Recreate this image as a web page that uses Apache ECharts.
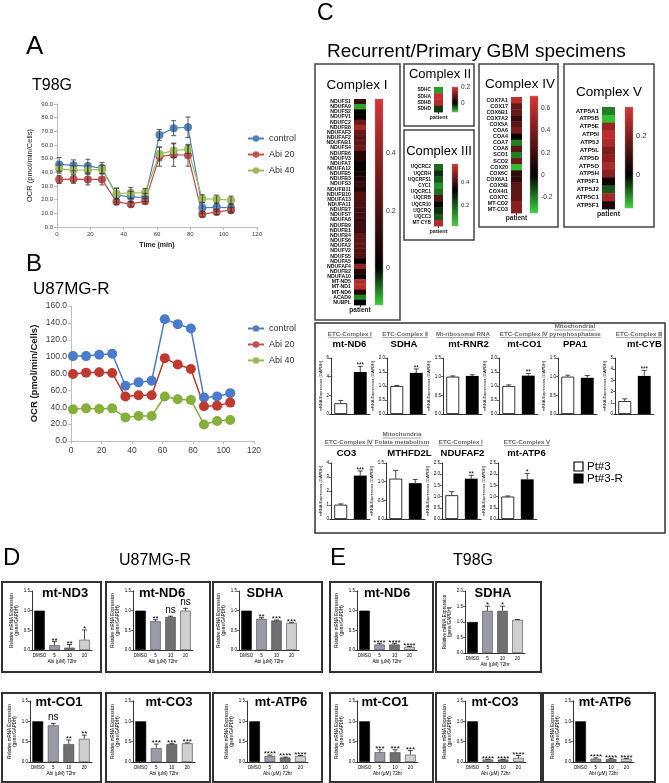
<!DOCTYPE html>
<html><head><meta charset="utf-8">
<script src="https://cdn.jsdelivr.net/npm/echarts@6/dist/echarts.min.js"></script>
<style>html,body{margin:0;padding:0;background:#fff}#chart{width:669px;height:783px}</style>
</head><body><div id="chart"></div>
<script>
// ---------------- DATA ----------------
const timeMin = [1.3, 9.9, 18.5, 27.0, 35.7, 44.3, 52.9, 61.5, 70.0, 78.6, 87.2, 95.8, 104.4];
const seriesNames = ['control', 'Abi 20', 'Abi 40'];
const t98gControl = [45.8, 45.1, 44.6, 43.1, 23.3, 22.1, 21.6, 67.4, 72.3, 73.0, 14.0, 14.5, 14.0];
const t98gControlErr = [5, 4, 5, 4, 5, 4, 3, 4, 5.5, 7.5, 4, 3, 3];
const t98gAbi20 = [34.8, 35.0, 34.8, 34.8, 18.4, 16.7, 18.9, 51.5, 52.9, 52.5, 9.3, 11.0, 12.3];
const t98gAbi20Err = [3, 3, 4, 4, 2, 2, 2, 7, 8.5, 8, 2, 2, 2];
const t98gAbi40 = [42.4, 41.7, 41.7, 42.2, 24.5, 25.0, 25.2, 53.4, 55.9, 56.9, 20.6, 20.3, 19.6];
const t98gAbi40Err = [3, 3, 3, 3, 4, 4, 3, 5, 5, 3, 3, 3, 3];
const u87Control = [100.6, 100.6, 102.2, 103.4, 65.5, 69.5, 71.4, 144.4, 138.5, 133.3, 51.5, 52.7, 56.7];
const u87Abi20 = [79.4, 81.0, 81.4, 80.6, 52.7, 54.3, 54.3, 98.2, 90.6, 85.4, 41.1, 41.9, 45.5];
const u87Abi40 = [37.5, 38.7, 37.9, 38.7, 28.0, 29.6, 29.6, 52.7, 49.5, 48.7, 19.6, 23.6, 24.8];

const complexIGenes = ['NDUFS1','NDUFA9','NDUFS2','NDUFV1','NDUFC2','NDUFB8','NDUFAF3','NDUFAF2','NDUFAB1','NDUFS4','NDUFB6','NDUFV3','NDUFA7','NDUFA12','NDUFB5','NDUFB3','NDUFS3','NDUFB11','NDUFB10','NDUFA13','NDUFA11','NDUFB7','NDUFS7','NDUFA8','NDUFB9','NDUFB1','NDUFB4','NDUFS6','NDUFA2','NDUFV2','NDUFS5','NDUFA5','NDUFAF4','NDUFB2','NDUFA10','MT-ND5','MT-ND1','MT-ND6','ACAD9','NUBPL'];
const complexIValues = [0.15,-0.1,0.02,0.0,0.3,0.45,0.3,0.25,0.25,0.3,0.1,0.1,0.03,0.02,0.06,0.08,0.15,0.1,0.22,0.22,0.2,0.18,0.17,0.17,0.17,0.17,0.25,0.25,0.25,0.22,0.22,0.02,0.4,0.1,0.03,0.5,0.5,0.1,-0.08,0.0];
const complexIScale = [-0.13, 0, 0.59];
const complexIIGenes = ['SDHC','SDHA','SDHB','SDHD'];
const complexIIValues = [-0.08, 0.18, 0.17, -0.03];
const complexIIScale = [-0.11, 0, 0.2];
const complexIIIGenes = ['UQCRC2','UQCRH','UQCRFS1','CYC1','UQCRC1','UQCRB','UQCR10','UQCRQ','UQCC3','MT-CYB'];
const complexIIIValues = [0.18, 0.26, 0.2, 0.12, 0.17, 0.42, 0.32, 0.26, 0.2, 0.52];
const complexIIIScale = [0.02, 0.33, 0.56];
const complexIVGenes = ['COX7A1','COX17','COX6B1','COX7A2','COX5A','COA6','COA4','COA7','COA8','SCO1','SCO2','COX20','COX6C','COX6A1','COX5B','COX4I1','COX7C','MT-CO2','MT-CO3'];
const complexIVValues = [0.62, 0.33, 0.35, 0.18, 0.3, 0.4, 0.0, -0.2, 0.3, -0.2, 0.35, -0.3, 0.15, 0.15, 0.3, 0.3, 0.3, 0.45, 0.45];
const complexIVScale = [-0.34, 0, 0.71];
const complexVGenes = ['ATP5A1','ATP5B','ATP5E','ATP5I','ATP5J','ATP5L','ATP5D','ATP5O','ATP5H','ATP5F1','ATP5J2','ATP5C1','ATP5F1'];
const complexVValues = [-0.1, -0.15, 0.25, 0.3, 0.28, 0.2, 0.22, 0.28, 0.22, 0.02, -0.07, 0.27, 0.05];
const complexVScale = [-0.17, 0, 0.35];

const qpcrGenes = ['mt-ND6','SDHA','mt-RNR2','mt-CO1','PPA1','mt-CYB','CO3','MTHFD2L','NDUFAF2','mt-ATP6'];
const qpcrGroups = ['ETC-Complex Ⅰ','ETC-Complex Ⅱ','Mt-ribosomal RNA','ETC-Complex Ⅳ','Mitochondrial\npyrophosphatase','ETC-Complex Ⅲ','ETC-Complex Ⅳ','Mitochondria\nFolate metabolism','ETC-Complex Ⅰ','ETC-Complex Ⅴ'];
const pt3Mean = [1.15, 1.0, 1.0, 1.0, 1.0, 1.15, 1.02, 1.08, 1.06, 1.0];
const pt3Err = [0.3, 0.02, 0.02, 0.04, 0.04, 0.2, 0.06, 0.22, 0.16, 0.03];
const pt3RMean = [4.5, 1.47, 1.02, 1.37, 0.97, 3.4, 3.1, 0.96, 1.8, 1.77];
const pt3RErr = [0.6, 0.14, 0.03, 0.08, 0.06, 0.5, 0.33, 0.1, 0.15, 0.26];
const qpcrSig = ['***','**','','**','','***','***','','**','*'];
const qpcrAxisMax = [6, 2, 1.5, 2, 1.5, 5, 4, 1.5, 2.5, 2.5];
const qpcrAxisStep = [2, 0.5, 0.5, 0.5, 0.5, 1, 1, 0.5, 0.5, 0.5];
const legendLabels = ['Pt#3', 'Pt#3-R'];

const doseLabels = ['DMSO', '5', '10', '20'];
const u87ND3 = [1.0, 0.12, 0.06, 0.26];   const u87ND3Err = [0, 0.1, 0.08, 0.25];   const u87ND3Sig = ['', '**', '**', '*'];
const u87ND6 = [1.0, 0.73, 0.84, 1.0];    const u87ND6Err = [0, 0.04, 0.02, 0.06];  const u87ND6Sig = ['', '**', 'ns', 'ns'];
const u87SDHA = [1.0, 0.79, 0.75, 0.69];  const u87SDHAErr = [0, 0.03, 0.01, 0.005]; const u87SDHASig = ['', '**', '***', '***'];
const u87CO1 = [1.0, 0.9, 0.44, 0.57];    const u87CO1Err = [0, 0.05, 0.1, 0.09];   const u87CO1Sig = ['', 'ns', '**', '**'];
const u87CO3 = [1.0, 0.34, 0.44, 0.46];   const u87CO3Err = [0, 0.1, 0.01, 0.01];   const u87CO3Sig = ['', '***', '***', '***'];
const u87ATP6 = [1.0, 0.15, 0.11, 0.15];  const u87ATP6Err = [0, 0.02, 0.01, 0.01]; const u87ATP6Sig = ['', '****', '****', '****'];
const t98ND6 = [1.0, 0.14, 0.14, 0.08];   const t98ND6Err = [0, 0.03, 0.03, 0.01];  const t98ND6Sig = ['', '****', '****', '****'];
const t98SDHA = [1.0, 1.36, 1.36, 1.07];  const t98SDHAErr = [0, 0.15, 0.15, 0.01]; const t98SDHASig = ['', '*', '*', ''];
const t98CO1 = [1.0, 0.24, 0.24, 0.18];   const t98CO1Err = [0, 0.06, 0.06, 0.1];   const t98CO1Sig = ['', '***', '***', '***'];
const t98CO3 = [1.0, 0.06, 0.06, 0.1];    const t98CO3Err = [0, 0.005, 0.005, 0.06]; const t98CO3Sig = ['', '****', '****', '****'];
const t98ATP6 = [1.0, 0.08, 0.07, 0.08];  const t98ATP6Err = [0, 0.02, 0.02, 0.01]; const t98ATP6Sig = ['', '****', '****', '****'];

// ---------------- BUILD ----------------
const FF = '"Liberation Sans", Arial, Helvetica, sans-serif';
const grids = [], xAxes = [], yAxes = [], series = [], graphics = [], legends = [];
const measureCtx = document.createElement('canvas').getContext('2d');

function addGrid(rect, xa, ya) {
  const i = grids.length;
  grids.push(Object.assign({ containLabel: false, show: false }, rect));
  xAxes.push(Object.assign({ gridIndex: i }, xa));
  yAxes.push(Object.assign({ gridIndex: i }, ya));
  return i;
}
function text(str, x, y, size, o) {
  o = o || {};
  graphics.push({ type: 'text', x: x, y: y, z: 100, silent: true,
    style: { text: str, fontSize: size, fontFamily: FF, fontWeight: o.bold ? 'bold' : 'normal',
      fill: o.color || '#000', align: o.align || 'center', verticalAlign: o.va || 'middle' } });
}
function box(x, y, w, h, lw, color) {
  graphics.push({ type: 'rect', z: 0, silent: true, shape: { x: x, y: y, width: w, height: h },
    style: { fill: 'none', stroke: color || '#333', lineWidth: lw || 1.5 } });
}
function underlined(str, cx, y, size, color) {
  const lines = str.split('\n');
  measureCtx.font = 'bold ' + size + 'px ' + FF;
  lines.forEach(function (ln, j) {
    const yy = y - (lines.length - 1 - j) * (size + 1.2);
    text(ln, cx, yy, size, { bold: true, color: color });
    const w = measureCtx.measureText(ln).width;
    graphics.push({ type: 'line', z: 100, silent: true,
      shape: { x1: cx - w / 2, y1: yy + size * 0.55, x2: cx + w / 2, y2: yy + size * 0.55 },
      style: { stroke: color, lineWidth: 0.6 } });
  });
}
function errorSeries(gi, data, sigs, opts) {
  series.push({ type: 'custom', xAxisIndex: gi, yAxisIndex: gi, z: 5, silent: true,
    encode: { x: 0, y: 1 }, data: data,
    renderItem: function (params, api) {
      const x = api.value(0), y = api.value(1), e = api.value(2);
      const hi = api.coord([x, y + e]);
      const lo = api.coord([x, opts.both ? y - e : y]);
      const cw = opts.cap;
      const st = { stroke: opts.color || '#000', lineWidth: opts.lw || 0.8 };
      const kids = [];
      if (e > 0) {
        kids.push({ type: 'line', shape: { x1: hi[0], y1: hi[1], x2: lo[0], y2: lo[1] }, style: st });
        kids.push({ type: 'line', shape: { x1: hi[0] - cw, y1: hi[1], x2: hi[0] + cw, y2: hi[1] }, style: st });
        if (opts.both) kids.push({ type: 'line', shape: { x1: lo[0] - cw, y1: lo[1], x2: lo[0] + cw, y2: lo[1] }, style: st });
      }
      const s = sigs ? sigs[params.dataIndex] : '';
      if (s) {
        const ns = s === 'ns';
        kids.push({ type: 'text', x: hi[0], y: hi[1] - (ns ? 6 : 1),
          style: { text: s, fontSize: ns ? opts.nsSize : opts.starSize, fontFamily: FF, fill: '#000', align: 'center', verticalAlign: 'middle' } });
      }
      return { type: 'group', children: kids };
    } });
}
function lineSeries(gi, name, ys, color, size, lw) {
  series.push({ type: 'line', name: name, xAxisIndex: gi, yAxisIndex: gi,
    data: timeMin.map(function (t, i) { return [t, ys[i]]; }),
    symbol: 'circle', symbolSize: size, itemStyle: { color: color }, lineStyle: { color: color, width: lw }, z: 3 });
}
const GREEN = [58, 215, 58], RED = [218, 52, 52];
function heatColor(v, sc) {
  const lo = sc[0], mid = sc[1], hi = sc[2];
  let t, C;
  if (v >= mid) { t = Math.min(1, (v - mid) / (hi - mid)); C = RED; }
  else { t = Math.min(1, (mid - v) / (mid - lo)); C = GREEN; }
  return 'rgb(' + C.map(function (c) { return Math.round(c * t); }).join(',') + ')';
}
function heatmap(genes, values, sc, col, bar, lSize, tSize, pSize) {
  const gi = addGrid(col,
    { type: 'category', data: ['patient'], axisLine: { show: false },
      axisTick: { show: true, alignWithLabel: true, length: 2, lineStyle: { color: '#333' } },
      axisLabel: { fontSize: pSize, fontFamily: FF, fontWeight: 'bold', color: '#222', margin: 2 } },
    { type: 'category', data: genes, inverse: true, axisLine: { show: false }, axisTick: { show: false },
      axisLabel: { fontSize: lSize, fontWeight: 'bold', fontFamily: FF, color: '#111', margin: 3, interval: 0 } });
  series.push({ type: 'custom', xAxisIndex: gi, yAxisIndex: gi, silent: true, encode: { x: 0, y: 1 },
    data: values.map(function (v, i) { return [0, i, v]; }),
    renderItem: function (params, api) {
      const c = api.coord([api.value(0), api.value(1)]);
      const s = api.size([1, 1]);
      return { type: 'rect', shape: { x: c[0] - s[0] / 2, y: c[1] - s[1] / 2, width: s[0], height: s[1] + 0.4 },
        style: { fill: heatColor(api.value(2), sc) } };
    } });
  const gb = addGrid(bar,
    { type: 'value', min: 0, max: 1, show: false },
    { type: 'value', min: sc[0], max: sc[2], interval: 0.01, position: 'right',
      axisLine: { show: false }, axisTick: { show: false }, splitLine: { show: false },
      axisLabel: { fontSize: tSize, fontFamily: FF, color: '#333', margin: 3,
        formatter: function (v) {
          const k = Math.round(v / 0.2);
          if (Math.abs(v - k * 0.2) > 1e-6) return '';
          const r = Math.round(k * 2) / 10;
          return r === 0 ? '0' : String(r);
        } } });
  series.push({ type: 'custom', xAxisIndex: gb, yAxisIndex: gb, silent: true, encode: { x: 0, y: [1, 2] },
    data: [[0, sc[0], sc[2]]],
    renderItem: function (params, api) {
      const p1 = api.coord([0, api.value(2)]);
      const p2 = api.coord([1, api.value(1)]);
      const off = (sc[2] - sc[1]) / (sc[2] - sc[0]);
      return { type: 'rect', shape: { x: p1[0], y: p1[1], width: p2[0] - p1[0], height: p2[1] - p1[1] },
        style: { fill: new echarts.graphic.LinearGradient(0, 0, 0, 1, [
          { offset: 0, color: 'rgb(' + RED.join(',') + ')' }, { offset: off, color: '#000' },
          { offset: 1, color: 'rgb(' + GREEN.join(',') + ')' }]), stroke: '#999', lineWidth: 0.5 } };
    } });
}
function qpcrChart(k, left, top) {
  const step = qpcrAxisStep[k];
  const gi = addGrid({ left: left, top: top, width: 39, height: 56 },
    { type: 'category', data: legendLabels, axisLine: { lineStyle: { color: '#000', width: 0.8 } },
      axisTick: { show: false }, axisLabel: { show: false } },
    { type: 'value', min: 0, max: qpcrAxisMax[k], interval: step,
      axisLine: { show: true, lineStyle: { color: '#000', width: 0.8 } },
      axisTick: { show: true, length: 2, lineStyle: { color: '#000', width: 0.6 } }, splitLine: { show: false },
      axisLabel: { fontSize: 4.5, fontFamily: FF, color: '#000', margin: 2,
        formatter: function (v) { return step < 1 ? v.toFixed(1) : String(v); } },
      name: 'mRNA Expression (GAPDH)', nameLocation: 'middle', nameGap: step < 1 ? 10 : 6,
      nameTextStyle: { fontSize: 4, fontFamily: FF, color: '#000' } });
  series.push({ type: 'bar', xAxisIndex: gi, yAxisIndex: gi, barWidth: '66%', silent: true,
    data: [{ value: pt3Mean[k], itemStyle: { color: '#fff', borderColor: '#000', borderWidth: 0.8 } },
           { value: pt3RMean[k], itemStyle: { color: '#000' } }] });
  errorSeries(gi, [[0, pt3Mean[k], pt3Err[k]], [1, pt3RMean[k], pt3RErr[k]]], ['', qpcrSig[k]],
    { cap: 2.5, starSize: 6.5, nsSize: 8, lw: 0.7 });
}
const doseColors = ['#000000', '#9a9ba6', '#707073', '#cfcfcf'];
function doseChart(rect, title, tx, ty, means, errs, sigs, yMax) {
  const gi = addGrid(rect,
    { type: 'category', data: doseLabels, axisLine: { lineStyle: { color: '#000', width: 0.8 } },
      axisTick: { show: false }, axisLabel: { fontSize: 4.5, fontFamily: FF, color: '#000', margin: 3, interval: 0 },
      name: 'Abi (μM) 72hr', nameLocation: 'middle', nameGap: 9.5,
      nameTextStyle: { fontSize: 4.8, fontFamily: FF, color: '#000' } },
    { type: 'value', min: 0, max: yMax, interval: 0.5,
      axisLine: { show: true, lineStyle: { color: '#000', width: 0.8 } },
      axisTick: { show: true, length: 2, lineStyle: { color: '#000', width: 0.6 } }, splitLine: { show: false },
      axisLabel: { fontSize: 4.5, fontFamily: FF, color: '#000', margin: 2, formatter: function (v) { return v.toFixed(1); } },
      name: 'Relative mRNA Expression\n(gene/GAPDH)', nameLocation: 'middle', nameGap: 9,
      nameTextStyle: { fontSize: 4.5, fontFamily: FF, color: '#000', lineHeight: 5.5 } });
  series.push({ type: 'bar', xAxisIndex: gi, yAxisIndex: gi, barWidth: '70%', silent: true,
    data: means.map(function (m, i) {
      return { value: m, itemStyle: { color: doseColors[i], borderColor: i ? '#444' : '#000', borderWidth: 0.6 } };
    }) });
  errorSeries(gi, means.map(function (m, i) { return [i, m, errs[i]]; }), sigs,
    { cap: 2.5, starSize: 8, nsSize: 10, lw: 0.7 });
  text(title, tx, ty, 13, { bold: true });
}

// ---- Panel A ----
const axisGray = { lineStyle: { color: '#bfbfbf' } };
const gA = addGrid({ left: 57, top: 104, width: 200, height: 123 },
  { type: 'value', min: 0, max: 120, interval: 20, axisLine: axisGray,
    axisTick: { show: true, length: 3, lineStyle: { color: '#bfbfbf' } }, splitLine: { show: false },
    axisLabel: { fontSize: 6, fontFamily: FF, color: '#404040', margin: 4 },
    name: 'Time (min)', nameLocation: 'middle', nameGap: 15,
    nameTextStyle: { fontSize: 7, fontWeight: 'bold', fontFamily: FF, color: '#222' } },
  { type: 'value', min: 0, max: 90, interval: 10, axisLine: Object.assign({ show: true }, axisGray),
    axisTick: { show: true, length: 3, lineStyle: { color: '#bfbfbf' } }, splitLine: { show: false },
    axisLabel: { fontSize: 6, fontFamily: FF, color: '#404040', margin: 4, formatter: function (v) { return v.toFixed(1); } },
    name: 'OCR (pmol/min/Cells)', nameLocation: 'middle', nameGap: 23,
    nameTextStyle: { fontSize: 7.5, fontFamily: FF, color: '#222' } });
const aColors = ['#4f81bd', '#c0504d', '#9bbb59'];
errorSeries(gA, timeMin.map(function (t, i) { return [t, t98gControl[i], t98gControlErr[i]]; }), null, { both: true, cap: 2.5, color: '#333', lw: 0.8 });
errorSeries(gA, timeMin.map(function (t, i) { return [t, t98gAbi20[i], t98gAbi20Err[i]]; }), null, { both: true, cap: 2.5, color: '#333', lw: 0.8 });
errorSeries(gA, timeMin.map(function (t, i) { return [t, t98gAbi40[i], t98gAbi40Err[i]]; }), null, { both: true, cap: 2.5, color: '#333', lw: 0.8 });
lineSeries(gA, seriesNames[0], t98gControl, aColors[0], 8, 1.2);
lineSeries(gA, seriesNames[1], t98gAbi20, aColors[1], 8, 1.2);
lineSeries(gA, seriesNames[2], t98gAbi40, aColors[2], 8, 1.2);
legends.push({ left: 247, top: 134, orient: 'vertical', itemGap: 7, itemWidth: 16, itemHeight: 8, padding: 0,
  data: seriesNames, selectedMode: false, textStyle: { fontSize: 9, fontFamily: FF, color: '#333' } });
text('A', 26, 47, 26, { align: 'left' });
text('T98G', 32, 86, 16, { align: 'left' });

// ---- Panel B ----
const gB = addGrid({ left: 71, top: 306, width: 183, height: 135 },
  { type: 'value', min: 0, max: 120, interval: 20, axisLine: axisGray,
    axisTick: { show: true, length: 3, lineStyle: { color: '#bfbfbf' } }, splitLine: { show: false },
    axisLabel: { fontSize: 8.5, fontFamily: FF, color: '#404040', margin: 5 } },
  { type: 'value', min: 0, max: 160, interval: 20, axisLine: Object.assign({ show: true }, axisGray),
    axisTick: { show: true, length: 3, lineStyle: { color: '#bfbfbf' } }, splitLine: { show: false },
    axisLabel: { fontSize: 8.5, fontFamily: FF, color: '#404040', margin: 4, formatter: function (v) { return v.toFixed(1); } },
    name: 'OCR (pmol/min/Cells)', nameLocation: 'middle', nameGap: 32,
    nameTextStyle: { fontSize: 9.5, fontWeight: 'bold', fontFamily: FF, color: '#222' } });
lineSeries(gB, seriesNames[0], u87Control, '#4a7ccb', 10, 1.5);
lineSeries(gB, seriesNames[1], u87Abi20, '#c0392f', 10, 1.5);
lineSeries(gB, seriesNames[2], u87Abi40, '#86b03c', 10, 1.5);
legends.push({ left: 247, top: 324, orient: 'vertical', itemGap: 7, itemWidth: 16, itemHeight: 8, padding: 0,
  data: seriesNames, selectedMode: false, textStyle: { fontSize: 9, fontFamily: FF, color: '#333' } });
text('B', 26, 264, 24, { align: 'left' });
text('U87MG-R', 33, 289, 17, { align: 'left' });

// ---- Panel C heatmaps ----
text('C', 317, 14, 23, { align: 'left' });
text('Recurrent/Primary GBM specimens', 327, 52, 19, { align: 'left' });
box(315, 64, 85, 256, 1.5, '#444');
box(404, 64, 70, 62, 1.5, '#444');
box(404, 130, 70, 110, 1.5, '#444');
box(479, 64, 79, 163, 1.5, '#444');
box(564, 64, 90, 163, 1.5, '#444');
text('Complex I', 357, 85, 13.5);
text('Complex II', 440, 74, 13);
text('Complex III', 439, 151, 13);
text('Complex IV', 520, 84, 13.5);
text('Complex V', 609, 92, 13.5);
heatmap(complexIGenes, complexIValues, complexIScale, { left: 354, top: 99, width: 12, height: 206 }, { left: 375, top: 99, width: 8, height: 206 }, 5.2, 7, 6.5);
heatmap(complexIIGenes, complexIIValues, complexIIScale, { left: 434, top: 87, width: 9, height: 25 }, { left: 452, top: 87, width: 6, height: 25 }, 4.8, 6.5, 5.5);
heatmap(complexIIIGenes, complexIIIValues, complexIIIScale, { left: 434, top: 164, width: 9, height: 62 }, { left: 452, top: 164, width: 6, height: 62 }, 4.8, 6, 5.5);
heatmap(complexIVGenes, complexIVValues, complexIVScale, { left: 511, top: 97, width: 11, height: 116 }, { left: 530, top: 96, width: 8, height: 117 }, 5.4, 6.7, 6.5);
heatmap(complexVGenes, complexVValues, complexVScale, { left: 602, top: 107, width: 13, height: 102 }, { left: 625, top: 107, width: 8, height: 101 }, 6.2, 7.5, 7);

// ---- Panel C qPCR ----
box(315, 323, 350, 210, 1.5, '#333');
const qLefts = [331, 387, 443, 499, 558, 615, 331, 386, 442, 498];
const qTitleX = [349.5, 404, 468.5, 524.5, 575, 644.5, 346.5, 409.5, 462.5, 526.5];
const qHeadX = [350, 405, 463, 524, 575, 639, 349, 402, 461, 527];
for (let k = 0; k < qpcrGenes.length; k++) {
  const row2 = k >= 6;
  qpcrChart(k, qLefts[k], row2 ? 463 : 358);
  underlined(qpcrGroups[k], qHeadX[k], row2 ? 442 : 334, 6.2, '#666');
  text(qpcrGenes[k], qTitleX[k], row2 ? 453 : 344, 9.5, { bold: true });
}
graphics.push({ type: 'rect', z: 100, silent: true, shape: { x: 574, y: 462, width: 9, height: 9 }, style: { fill: '#fff', stroke: '#000', lineWidth: 1.2 } });
graphics.push({ type: 'rect', z: 100, silent: true, shape: { x: 574, y: 474, width: 9, height: 9 }, style: { fill: '#000', stroke: '#000', lineWidth: 1.2 } });
text(legendLabels[0], 587, 467, 11.5, { align: 'left' });
text(legendLabels[1], 587, 479, 11.5, { align: 'left' });

// ---- Panel D ----
text('D', 3, 558, 24, { align: 'left' });
text('U87MG-R', 155, 561, 16, {});
[[2, 582, 99, 90], [106, 582, 104, 90], [213, 582, 109, 90], [2, 693, 99, 89], [106, 693, 104, 89], [213, 693, 109, 89]]
  .forEach(function (b) { box(b[0], b[1], b[2], b[3], 2, '#333'); });
doseChart({ left: 32, top: 591, width: 60, height: 59 }, 'mt-ND3', 65, 593, u87ND3, u87ND3Err, u87ND3Sig, 1.5);
doseChart({ left: 133, top: 591, width: 60, height: 59 }, 'mt-ND6', 162, 593, u87ND6, u87ND6Err, u87ND6Sig, 1.5);
doseChart({ left: 239, top: 591, width: 60, height: 59 }, 'SDHA', 265, 593, u87SDHA, u87SDHAErr, u87SDHASig, 1.5);
doseChart({ left: 30, top: 701, width: 62, height: 61 }, 'mt-CO1', 59, 702, u87CO1, u87CO1Err, u87CO1Sig, 1.5);
doseChart({ left: 133, top: 701, width: 62, height: 61 }, 'mt-CO3', 169, 702, u87CO3, u87CO3Err, u87CO3Sig, 1.5);
doseChart({ left: 247, top: 701, width: 61, height: 61 }, 'mt-ATP6', 281, 702, u87ATP6, u87ATP6Err, u87ATP6Sig, 1.5);

// ---- Panel E ----
text('E', 330, 558, 24, { align: 'left' });
text('T98G', 473, 561, 16, {});
[[330, 582, 103, 90], [436, 582, 105, 90], [330, 693, 103, 89], [436, 693, 105, 89], [543, 693, 112, 89]]
  .forEach(function (b) { box(b[0], b[1], b[2], b[3], 2, '#333'); });
doseChart({ left: 357, top: 591, width: 60, height: 59 }, 'mt-ND6', 387, 593, t98ND6, t98ND6Err, t98ND6Sig, 1.5);
doseChart({ left: 465, top: 591, width: 60, height: 62 }, 'SDHA', 493, 593, t98SDHA, t98SDHAErr, t98SDHASig, 2.0);
doseChart({ left: 357, top: 701, width: 61, height: 61 }, 'mt-CO1', 385, 702, t98CO1, t98CO1Err, t98CO1Sig, 1.5);
doseChart({ left: 465, top: 701, width: 61, height: 61 }, 'mt-CO3', 495, 702, t98CO3, t98CO3Err, t98CO3Sig, 1.5);
doseChart({ left: 573, top: 701, width: 61, height: 61 }, 'mt-ATP6', 605, 702, t98ATP6, t98ATP6Err, t98ATP6Sig, 1.5);

const chart = echarts.init(document.getElementById('chart'), null, { renderer: 'canvas' });
chart.setOption({
  animation: false,
  backgroundColor: '#fff',
  textStyle: { fontFamily: FF },
  grid: grids, xAxis: xAxes, yAxis: yAxes, series: series, legend: legends,
  graphic: { elements: graphics }
});
</script></body></html>
